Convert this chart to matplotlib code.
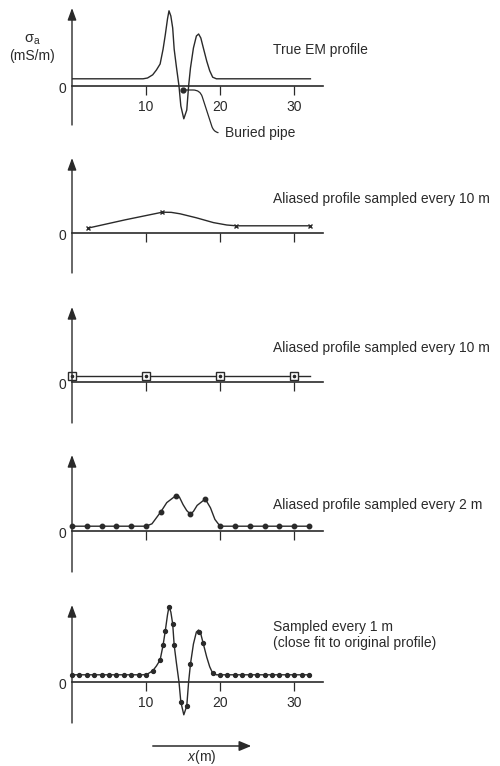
import matplotlib
matplotlib.use('Agg')
import matplotlib.pyplot as plt
from matplotlib.patches import FancyArrowPatch

plt.rcParams['font.family'] = ['Liberation Sans', 'DejaVu Sans']
plt.rcParams['mathtext.fontset'] = 'custom'
plt.rcParams['mathtext.rm'] = 'Liberation Sans'
plt.rcParams['mathtext.it'] = 'Liberation Sans:italic'

#### Data (x in m, sigma_a in arbitrary mS/m units)
true_x = [0, 9.6, 10.2, 10.9, 11.4, 11.9, 12.3, 12.6, 12.9, 13.1, 13.35, 13.6, 13.8, 14.1, 14.45,
          14.7, 15.1, 15.5, 15.75, 16.0, 16.4, 16.8, 17.1, 17.4, 17.7, 18.2, 18.6, 19.0, 19.5, 32.2]
true_y = [0.9, 0.9, 1.0, 1.4, 2.0, 2.75, 4.6, 6.4, 8.4, 9.4, 8.75, 7.25, 4.6, 2.4, 0.0,
          -2.5, -4.1, -3.0, 0.0, 2.25, 4.75, 6.25, 6.5, 6.0, 4.9, 3.1, 1.9, 1.1, 0.9, 0.9]
pipe_x, pipe_y = 15.0, -0.5

# aliased, every 10 m (offset)
s10a_x = [2.2, 12.2, 22.2, 32.2]
s10a_y = [0.62, 2.6, 0.9, 0.9]
s10a_line_x = [2.2, 7.2, 12.2, 13.4, 14.6, 16.8, 19.1, 20.9, 22.2, 32.2]
s10a_line_y = [0.62, 1.65, 2.6, 2.58, 2.4, 1.9, 1.3, 1.0, 0.9, 0.9]

# aliased, every 10 m (on the grid)
s10b_x = [0, 10, 20, 30]
s10b_y = [0.75, 0.75, 0.75, 0.75]
s10b_line_x = [0, 32.2]
s10b_line_y = [0.75, 0.75]

# every 2 m
s2_x = [0, 2, 4, 6, 8, 10, 12, 14, 16, 18, 20, 22, 24, 26, 28, 30, 32]
s2_y = [0.6, 0.6, 0.6, 0.6, 0.6, 0.6, 2.4, 4.4, 2.1, 4.0, 0.6, 0.6, 0.6, 0.6, 0.6, 0.6, 0.6]
s2_line_x = [0, 10, 10.8, 12, 12.8, 14, 14.5, 15.0, 15.5, 16, 16.4, 16.9, 18, 18.7, 19.3, 20, 32]
s2_line_y = [0.6, 0.6, 0.9, 2.4, 3.55, 4.4, 4.25, 3.3, 2.55, 2.1, 2.45, 3.2, 4.0, 2.9, 1.45, 0.6, 0.6]

# every 1 m
s1_x = [0, 1, 2, 3, 4, 5, 6, 7, 8, 9, 10, 10.9, 11.9, 12.3, 12.6, 13.1, 13.6, 13.8, 14.7, 15.5,
        16.0, 17.1, 17.7, 19, 20, 21, 22, 23, 24, 25, 26, 27, 28, 29, 30, 31, 32]
s1_y = [0.9] * 11 + [1.4, 2.75, 4.6, 6.4, 9.4, 7.25, 4.6, -2.5, -3.0, 2.25, 6.25, 4.9, 1.1] + [0.9] * 13

xticks = [10, 20, 30]
labels = ['True EM profile',
          'Aliased profile sampled every 10 m',
          'Aliased profile sampled every 10 m',
          'Aliased profile sampled every 2 m',
          'Sampled every 1 m\n(close fit to original profile)']

#### Layout (pixels from top of a 500x766 figure)
W, H = 500, 766
panels_px = [(8, 86, 125), (158, 233, 273), (307, 382, 423), (455, 531, 572), (605, 682, 723)]
label_y = [50, 199, 348, 505, 635]
PXU = 8.0
ink = '#2a2a2a'

fig = plt.figure(figsize=(5, 7.66), dpi=100)


def make_axes(top, zero, bot, ticklabels):
	ax = fig.add_axes([72 / W, 1 - bot / H, 251 / W, (bot - top) / H])
	ax.set_xlim(0, 33.9)
	ax.set_ylim(-(bot - zero) / PXU, (zero - top) / PXU)
	ax.patch.set_alpha(0)
	for s in ['top', 'right', 'left']:
		ax.spines[s].set_visible(False)
	ax.spines['bottom'].set_position(('data', 0))
	ax.spines['bottom'].set_linewidth(1.2)
	ax.spines['bottom'].set_color(ink)
	ax.set_yticks([])
	ax.set_xticks(xticks)
	ax.tick_params(axis='x', direction='out', length=6.5, width=0.9, color=ink,
				   pad=3.5, labelsize=10, labelcolor=ink, labelbottom=ticklabels)
	# y axis with arrow
	ax.annotate('', xy=(0, 1), xycoords='axes fraction', xytext=(0, 0),
				arrowprops=dict(arrowstyle='-|>,head_length=0.6,head_width=0.22',
								mutation_scale=12, lw=1.0, color=ink, shrinkA=0, shrinkB=0))
	ax.annotate('0', xy=(0, 0), xytext=(-7, -2), textcoords='offset points',
				ha='center', va='center', fontsize=10, color=ink)
	return ax


axes = [make_axes(t, z, b, i in (0, 4)) for i, (t, z, b) in enumerate(panels_px)]

# Panel 1: true profile
ax = axes[0]
ax.plot(true_x, true_y, color=ink, lw=1.0)
ax.plot(pipe_x, pipe_y, 'o', color=ink, ms=3.5)
ax.annotate('Buried pipe', xy=(pipe_x, pipe_y), xytext=(225 / W, 1 - 133 / H),
			textcoords='figure fraction', ha='left', va='center', fontsize=10, color=ink,
			arrowprops=dict(arrowstyle='-', color=ink, lw=0.9, shrinkA=3, shrinkB=1,
							relpos=(0, 0.5),
							connectionstyle='arc,angleA=180,angleB=0,armA=11,armB=17,rad=7'))

# Panel 2
ax = axes[1]
ax.plot(s10a_line_x, s10a_line_y, color=ink, lw=1.0)
ax.plot(s10a_x, s10a_y, 'x', color=ink, ms=3.5, mew=1.0, clip_on=False)

# Panel 3
ax = axes[2]
ax.plot(s10b_line_x, s10b_line_y, color=ink, lw=1.0)
ax.plot(s10b_x, s10b_y, 's', mfc='white', mec=ink, mew=1.0, ms=5.5, clip_on=False)
ax.plot(s10b_x, s10b_y, 'o', color=ink, ms=1.6, clip_on=False)

# Panel 4
ax = axes[3]
ax.plot(s2_line_x, s2_line_y, color=ink, lw=1.0)
ax.plot(s2_x, s2_y, 'o', color=ink, ms=3.2, clip_on=False)

# Panel 5
ax = axes[4]
ax.plot(true_x, true_y, color=ink, lw=1.0)
ax.plot(s1_x, s1_y, 'o', color=ink, ms=2.8, clip_on=False)

# Panel labels
for lab, yy in zip(labels, label_y):
	fig.text(273 / W, 1 - yy / H, lab, ha='left', va='center', fontsize=10,
			 color=ink, linespacing=1.15)

# y label
fig.text(32 / W, 1 - 40 / H, r'$\mathrm{\sigma_a}$', ha='center', va='center', fontsize=10.5, color=ink)
fig.text(32 / W, 1 - 56 / H, '(mS/m)', ha='center', va='center', fontsize=10, color=ink)

# x direction arrow
fig.add_artist(FancyArrowPatch((150 / W, 1 - 746 / H), (254 / W, 1 - 746 / H),
							   transform=fig.transFigure,
							   arrowstyle='-|>,head_length=0.6,head_width=0.25',
							   mutation_scale=12, lw=1.1, color=ink))
fig.text(202 / W, 1 - 757 / H, r'$x$(m)', ha='center', va='center', fontsize=10, color=ink)

plt.savefig('out.png', dpi=100)
